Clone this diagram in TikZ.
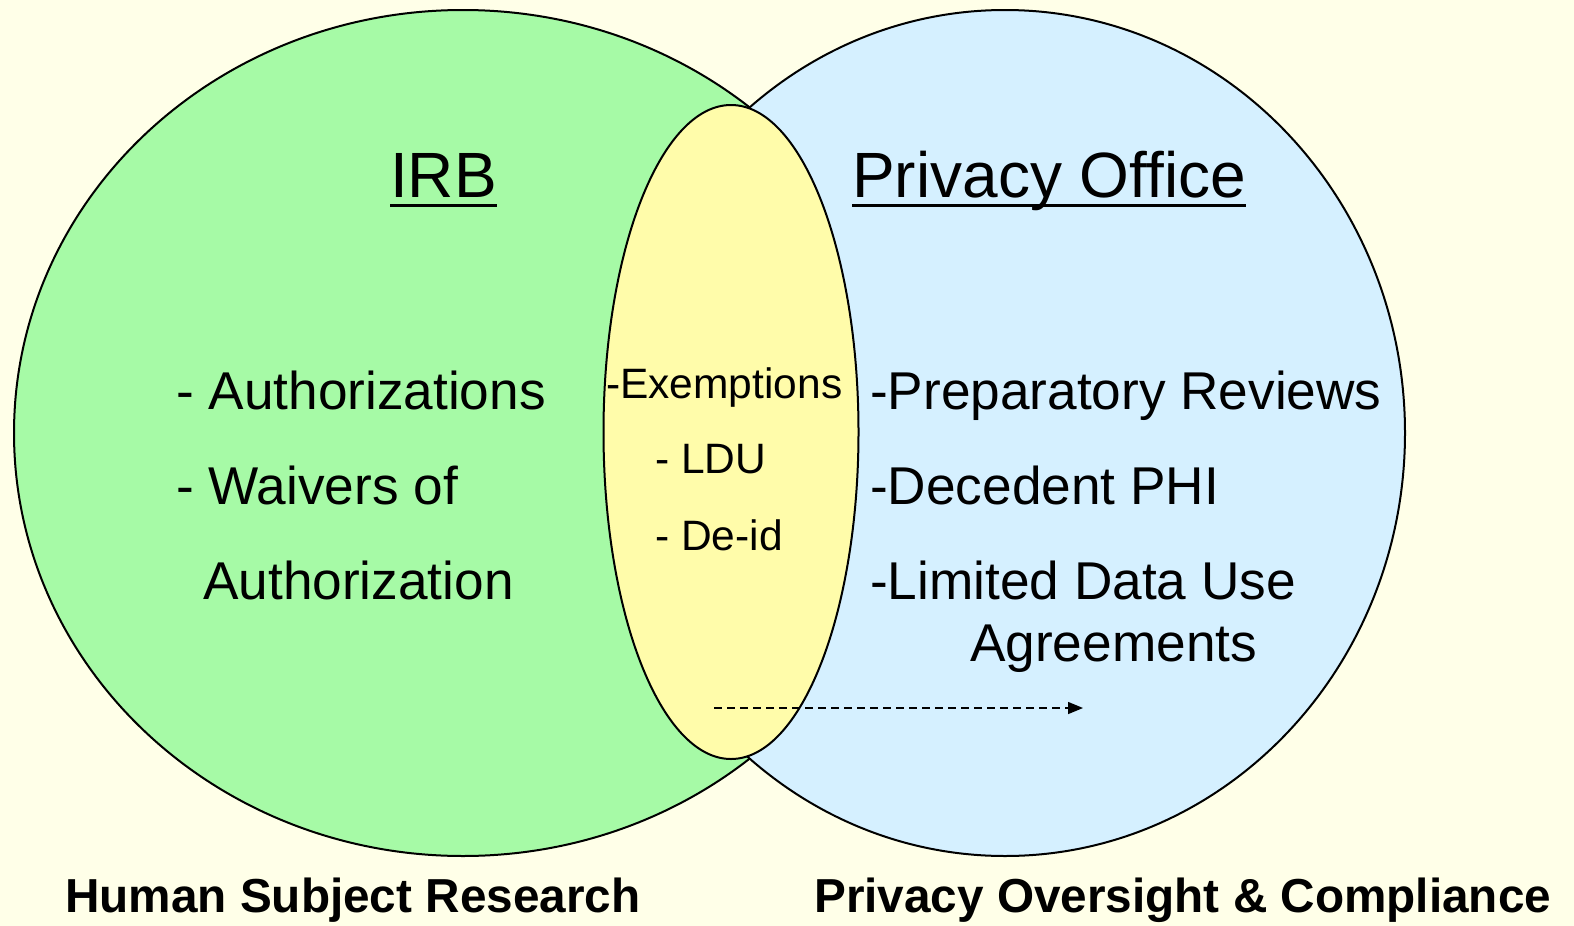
\documentclass[tikz,border=0pt]{standalone}
\usepackage{fontspec}
\setmainfont{Liberation Sans}
\usetikzlibrary{shapes.geometric,arrows.meta}
\definecolor{bgcol}{RGB}{255,255,232}
\definecolor{greencol}{RGB}{166,250,166}
\definecolor{bluecol}{RGB}{213,240,255}
\definecolor{yellowcol}{RGB}{255,252,170}
\tikzset{
  blob/.style={ellipse,draw=black,line width=2pt,inner sep=0pt},
  title/.style={anchor=base west,inner sep=0pt,font=\fontsize{64}{70}\selectfont},
  item/.style={anchor=base west,inner sep=0pt,font=\fontsize{53.2}{60}\selectfont},
  mid/.style={anchor=base west,inner sep=0pt,font=\fontsize{42.5}{48}\selectfont},
  caption/.style={anchor=base west,inner sep=0pt,font=\fontsize{47.7}{54}\selectfont\bfseries},
  ulinestyle/.style={line width=3pt},
  flow/.style={dashed,dash pattern=on 8pt off 5pt,line width=1.5pt,-{Triangle[length=15pt,width=12pt]}}
}
\begin{document}
\begin{tikzpicture}[x=1pt,y=-1pt]
\fill[bgcol] (0,0) rectangle (1574,926);
\useasboundingbox (0,0) rectangle (1574,926);
\node[blob,fill=greencol,minimum width=898pt,minimum height=846pt] (left) at (463,433) {};
\node[blob,fill=bluecol,minimum width=800pt,minimum height=846pt] (right) at (1005,433) {};
\node[blob,fill=yellowcol,minimum width=255pt,minimum height=654pt] (mid) at (731,432) {};

\node[title] (irb) at (390,197) {IRB};
\node[title] (po) at (852,197) {Privacy Office};
\draw[ulinestyle] ([yshift=-8pt]irb.base west) -- ([yshift=-8pt]irb.base east);
\draw[ulinestyle] ([yshift=-8pt]po.base west) -- ([yshift=-8pt]po.base east);

\node[item] (a1) at (176,409) {- Authorizations};
\node[item] (a2) at (176,504) {- Waivers of};
\node[item] (a3) at (203,599) {Authorization};

\node[mid] (m1) at (606,398) {-Exemptions};
\node[mid] (m2) at (655,473) {- LDU};
\node[mid] (m3) at (655,550) {- De-id};

\node[item] (p1) at (870,409) {-Preparatory Reviews};
\node[item] (p2) at (870,504) {-Decedent PHI};
\node[item] (p3) at (870,599) {-Limited Data Use};
\node[item] (p4) at (970,661) {Agreements};

\coordinate (fs) at (714,708);
\coordinate (fe) at (1083,708);
\draw[flow] (fs) -- (fe);

\node[caption] (c1) at (65,912) {Human Subject Research};
\node[caption] (c2) at (814,912) {Privacy Oversight \& Compliance};
\end{tikzpicture}
\end{document}
